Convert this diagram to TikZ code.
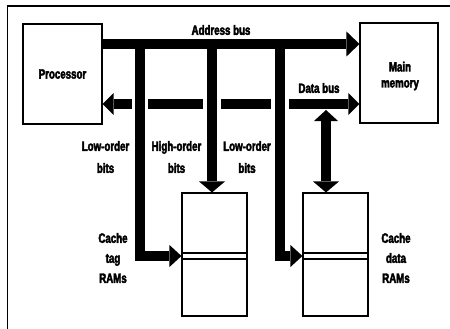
\documentclass[tikz,border=0pt]{standalone}
\usepackage{fontspec}
\newfontfamily\labfont{Liberation Sans}[FakeStretch=0.72, BoldFeatures={FakeBold=3}]
\usetikzlibrary{arrows.meta}
\tikzset{
  box/.style={draw, line width=1.1pt, inner sep=0pt},
  bus/.style={line width=10pt, line join=miter, line cap=butt},
  lab/.style={font=\labfont\bfseries\fontsize{13.5}{20}\selectfont, align=center, inner sep=0pt},
  bighead/.style={-{Triangle[length=13pt,width=25pt,line width=0pt]}},
  dbhead/.style={{Triangle[length=11pt,width=22pt,line width=0pt]}-{Triangle[length=11pt,width=22pt,line width=0pt]}},
  downhead/.style={-{Triangle[length=11pt,width=26pt,line width=0pt]}},
  armhead/.style={-{Triangle[length=12pt,width=22pt,line width=0pt]}},
  gap/.style={fill=white}
}
\begin{document}
\begin{tikzpicture}[x=1pt,y=-1pt]
\useasboundingbox (0,0) rectangle (450,329);
% frame
\draw[line width=1.5pt] (7.5,329) -- (7.5,6) -- (450,6);
% boxes
\node[box, minimum width=79pt, minimum height=100pt] (proc) at (62.5,74) {};
\node[lab] (proclab) at (proc.center) {Processor};
\node[box, minimum width=78pt, minimum height=100pt] (mem) at (399,73) {};
\node[lab, font=\labfont\bfseries\fontsize{13.5}{16}\selectfont] (memlab) at (400,76) {Main\\memory};
\node[box, minimum width=65pt, minimum height=123pt] (tag) at (214.5,254.5) {};
\node[box, minimum width=65pt, minimum height=123pt] (dat) at (335.5,254.5) {};
\draw[line width=1.1pt] (tag.west |- 0,253) -- (tag.east |- 0,253);
\draw[line width=1.1pt] (tag.west |- 0,259) -- (tag.east |- 0,259);
\draw[line width=1.1pt] (dat.west |- 0,253) -- (dat.east |- 0,253);
\draw[line width=1.1pt] (dat.west |- 0,259) -- (dat.east |- 0,259);
% data bus
\draw[bus, dbhead] (proc.east |- 0,104) -- (mem.west |- 0,104);
\fill[gap] (132,97) rectangle (148,111);
\fill[gap] (203,97) rectangle (221,111);
\fill[gap] (271,97) rectangle (289,111);
% vertical bars
\coordinate (b1) at (140,44);
\coordinate (b2) at (212,44);
\coordinate (b3) at (280,44);
\draw[bus, armhead] (b1) -- (b1 |- 0,256) -- (tag.west |- 0,256);
\draw[bus, downhead] (b2) -- (b2 |- tag.north);
\draw[bus, armhead] (b3) -- (b3 |- 0,256) -- (dat.west |- 0,256);
\coordinate (dvtop) at (326,110);
\draw[bus, {Triangle[length=11pt,width=24pt,line width=0pt]}-{Triangle[length=11pt,width=26pt,line width=0pt]}] (dvtop) -- (dvtop |- dat.north);
% address bus
\draw[bus, bighead] (proc.east |- 0,44) -- (mem.west |- 0,44);
% labels
\node[lab] (addr) at (221,30) {Address bus};
\node[lab] (datab) at (319,88) {Data bus};
\node[lab, font=\labfont\bfseries\fontsize{13.5}{22}\selectfont] (lo1) at (105.5,157) {Low-order\\bits};
\node[lab, font=\labfont\bfseries\fontsize{13.5}{22}\selectfont] (hi) at (176.5,157) {High-order\\bits};
\node[lab, font=\labfont\bfseries\fontsize{13.5}{22}\selectfont] (lo2) at (247,157) {Low-order\\bits};
\node[lab, font=\labfont\bfseries\fontsize{13.5}{20}\selectfont] (ctag) at (113,258) {Cache\\tag\\RAMs};
\node[lab, font=\labfont\bfseries\fontsize{13.5}{20}\selectfont] (cdat) at (396,258) {Cache\\data\\RAMs};
\end{tikzpicture}
\end{document}
